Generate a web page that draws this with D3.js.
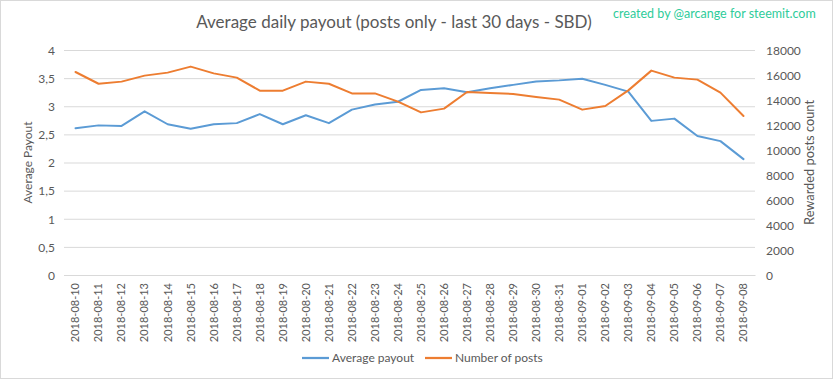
<!DOCTYPE html>
<html><head><meta charset="utf-8">
<script src="https://cdn.jsdelivr.net/npm/d3@7"></script>
<style>
html,body{margin:0;padding:0;background:#fff;}
svg{display:block;font-family:Lato,"Open Sans",sans-serif;}
</style></head>
<body>
<svg id="c" width="833" height="379"></svg>
<script>
const dates = ["2018-08-10","2018-08-11","2018-08-12","2018-08-13","2018-08-14","2018-08-15","2018-08-16","2018-08-17","2018-08-18","2018-08-19","2018-08-20","2018-08-21","2018-08-22","2018-08-23","2018-08-24","2018-08-25","2018-08-26","2018-08-27","2018-08-28","2018-08-29","2018-08-30","2018-08-31","2018-09-01","2018-09-02","2018-09-03","2018-09-04","2018-09-05","2018-09-06","2018-09-07","2018-09-08"];
const avgPayout = [2.61,2.66,2.65,2.91,2.68,2.60,2.68,2.70,2.86,2.68,2.84,2.70,2.94,3.03,3.08,3.29,3.32,3.25,3.32,3.38,3.44,3.46,3.49,3.38,3.26,2.74,2.78,2.47,2.38,2.06];
const numPosts = [16240,15300,15470,15950,16190,16670,16130,15790,14750,14750,15470,15300,14530,14530,13870,13010,13310,14640,14560,14480,14240,14030,13230,13520,14770,16350,15790,15630,14590,12720];
const leftTicks = [0,0.5,1,1.5,2,2.5,3,3.5,4];
const rightTicks = [0,2000,4000,6000,8000,10000,12000,14000,16000,18000];

const svg = d3.select("#c");
const W = 833, H = 379;
const m = {left:64, right:78, top:50, bottom:104};
const x0 = m.left, x1 = W - m.right, yT = m.top, yB = H - m.bottom;
const txt = "#595959";

svg.append("rect").attr("x",0.5).attr("y",0.5).attr("width",W-1).attr("height",H-1)
  .attr("fill","#fff").attr("stroke","#d9d9d9");

const x = d3.scaleBand().domain(dates).range([x0,x1]);
const yL = d3.scaleLinear().domain([0,4]).range([yB,yT]);
const yR = d3.scaleLinear().domain([0,18000]).range([yB,yT]);

function fit(sel, target){
  const n = sel.node(); const w = n.getComputedTextLength();
  const fs = parseFloat(sel.style("font-size"));
  sel.style("font-size",(fs*target/w).toFixed(2)+"px");
}

// gridlines
svg.append("g").selectAll("line").data(leftTicks).join("line")
  .attr("x1",x0).attr("x2",x1).attr("y1",d=>yL(d)+0.5).attr("y2",d=>yL(d)+0.5)
  .attr("stroke","#d9d9d9").attr("stroke-width",1);

// left axis
const fmtL = d => String(d).replace(".",",");
const axL = d3.axisLeft(yL).tickValues(leftTicks).tickSize(0).tickPadding(9).tickFormat(fmtL);
const gL = svg.append("g").attr("transform",`translate(${x0},0.5)`).call(axL);
gL.select(".domain").remove();
gL.selectAll("text").attr("fill",txt).style("font-size","12px").style("font-family","Lato, sans-serif");

// right axis
const axR = d3.axisRight(yR).tickValues(rightTicks).tickSize(0).tickPadding(11).tickFormat(d3.format("d"));
const gR = svg.append("g").attr("transform",`translate(${x1},0.5)`).call(axR);
gR.select(".domain").remove();
gR.selectAll("text").attr("fill",txt).style("font-size","12px").style("font-family","Lato, sans-serif");

// bottom axis
const axB = d3.axisBottom(x).tickSize(0).tickPadding(0);
const gB = svg.append("g").attr("transform",`translate(0,${yB})`).call(axB);
gB.select(".domain").attr("stroke","#d9d9d9");
gB.selectAll("text").attr("fill",txt).style("font-size","11px").style("font-family","Lato, sans-serif")
  .attr("text-anchor","end").attr("dy","0.35em")
  .attr("transform","translate(0,8) rotate(-90)").attr("x",0).attr("y",0);

// lines
const lineL = d3.line().x((d,i)=>x(dates[i])+x.bandwidth()/2).y(d=>yL(d));
const lineR = d3.line().x((d,i)=>x(dates[i])+x.bandwidth()/2).y(d=>yR(d));
svg.append("path").datum(avgPayout).attr("d",lineL).attr("fill","none")
  .attr("stroke","#5b9bd5").attr("stroke-width",2).attr("stroke-linejoin","round").attr("stroke-linecap","round");
svg.append("path").datum(numPosts).attr("d",lineR).attr("fill","none")
  .attr("stroke","#ed7d31").attr("stroke-width",2).attr("stroke-linejoin","round").attr("stroke-linecap","round");

// axis titles
const tL = svg.append("text").attr("transform",`translate(32,${(yT+yB)/2}) rotate(-90)`)
  .attr("text-anchor","middle").attr("fill",txt).style("font-size","13px").text("Average Payout");
fit(tL, 82);
const tR = svg.append("text").attr("transform",`translate(814,${(yT+yB)/2}) rotate(-90)`)
  .attr("text-anchor","middle").attr("fill",txt).style("font-size","13px").text("Rewarded posts count");
fit(tR, 125);

// title
const title = svg.append("text").attr("x",394).attr("y",28).attr("text-anchor","middle")
  .attr("fill",txt).style("font-size","17px").text("Average daily payout (posts only - last 30 days - SBD)");
fit(title, 396);
const credit = svg.append("text").attr("x",613).attr("y",18).attr("fill","#2ecc9a")
  .style("font-size","13px").text("created by @arcange for steemit.com");
fit(credit, 203);

// legend
const leg = [{name:"Average payout", c:"#5b9bd5", x:302},{name:"Number of posts", c:"#ed7d31", x:425}];
const lg = svg.append("g").selectAll("g").data(leg).join("g").attr("transform",d=>`translate(${d.x},358)`);
lg.append("line").attr("x1",0).attr("x2",27).attr("stroke",d=>d.c).attr("stroke-width",2.25);
lg.append("text").attr("x",30).attr("dy","0.35em").attr("fill",txt).style("font-size","12px").text(d=>d.name);
</script>
</body></html>
